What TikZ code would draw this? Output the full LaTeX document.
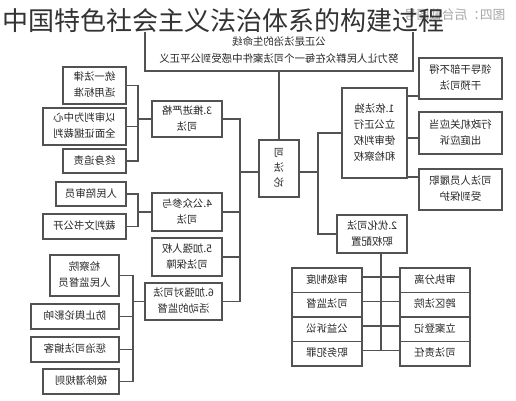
\documentclass[tikz,border=0pt]{standalone}
\usepackage{fontspec}
\usepackage{graphicx}
\setmainfont{Noto Sans CJK SC}
\usetikzlibrary{positioning,calc}
\newcommand{\fl}[1]{\reflectbox{\begin{tabular}{@{}c@{}}#1\end{tabular}}}
\tikzset{
  box/.style 2 args={draw=black!68, line width=0.9pt, fill=white, inner sep=0pt,
    minimum width=#1*0.75pt, minimum height=#2*0.75pt,
    font=\fontsize{7.8}{12}\selectfont, text=black!85},
  wire/.style={draw=black!68, line width=0.9pt},
}
\begin{document}
\begin{tikzpicture}[x=0.75pt, y=-0.75pt]
  \useasboundingbox (0,0) rectangle (516,400);
  % top and centre
  \node[box={268}{40}, font=\fontsize{7.8}{12.8}\selectfont] (top) at (279,51)
     {\fl{公正是法治的生命线\\努力让人民群众在每一个司法案件中感受到公平正义}};
  \node[box={40}{57}, font=\fontsize{7.8}{11.2}\selectfont] (cen) at (279,168.5) {\fl{司\\法\\论}};
  \draw[wire] (top) -- (cen);
  % right side
  \node[box={65}{90}] (b1) at (374.5,133) {\fl{1.依法独\\立公正行\\使审判权\\和检察权}};
  \node[box={83}{41}] (c1a) at (460.5,78.5) {\fl{领导干部不得\\干预司法}};
  \node[box={83}{42}] (c1b) at (460.5,133) {\fl{行政机关应当\\出庭应诉}};
  \node[box={83}{41}] (c1c) at (460.5,189.5) {\fl{司法人员履职\\受到保护}};
  \node[box={70}{38}] (b2) at (372,234) {\fl{2.优化司法\\职权配置}};
  \coordinate (rt) at (318,172);
  \draw[wire] (cen.east |- rt) -- (rt);
  \draw[wire] (b1.west) -| (rt) |- (b2.west);
  \draw[wire] (b1.east |- 0,96) -- (c1a.west |- 0,96);
  \draw[wire] (b1.east |- 0,138) -- (c1b.west |- 0,138);
  \draw[wire] (b1.east |- 0,177) -- (c1c.west |- 0,177);
  \coordinate (gv) at (381,350);
  \draw[wire] (gv |- b2.south) -- (gv);
  \foreach \i/\la/\lb in {1/审级制度/审执分离, 2/司法监督/跨区法院, 3/公益诉讼/立案登记, 4/职务犯罪/司法责任}{
    \node[box={70}{24.5}] (gl\i) at (327,255.75+24.5*\i) {\fl{\la}};
    \node[box={70}{24.5}] (gr\i) at (435,255.75+24.5*\i) {\fl{\lb}};
    \draw[wire] (gl\i.east |- 0,252.5+24.5*\i) -- (gr\i.west |- 0,252.5+24.5*\i);
  }
  % left side
  \node[box={70}{36}] (b3) at (187,119) {\fl{3.推进严格\\司法}};
  \node[box={70}{38}] (b4) at (187,212) {\fl{4.公众参与\\司法}};
  \node[box={70}{38}] (b5) at (187,257) {\fl{5.加强人权\\司法保障}};
  \node[box={77}{37}] (b6) at (183.5,301.5) {\fl{6.加强对司法\\活动的监督}};
  \coordinate (lt) at (240,172);
  \draw[wire] (cen.west |- lt) -- (lt);
  \draw[wire] (b3.east) -| (lt) |- (b6.east);
  \draw[wire] (b4.east) -- (b4.east -| lt);
  \draw[wire] (b5.east) -- (b5.east -| lt);
  \node[box={63}{37}] (c3a) at (94.5,85.5) {\fl{统一法律\\适用标准}};
  \node[box={83}{37}] (c3b) at (84.5,126.5) {\fl{以审判为中心\\全面证据裁判}};
  \node[box={63}{24}] (c3c) at (94.5,161) {\fl{终身追责}};
  \coordinate (k3) at (138,119);
  \draw[wire] (b3.west) -- (k3);
  \draw[wire] (c3a.east) -| (k3) |- (c3c.east);
  \draw[wire] (c3b.east) -- (c3b.east -| k3);
  \node[box={70}{24}] (c4a) at (91,194) {\fl{人民陪审员}};
  \node[box={83}{25}] (c4b) at (84.5,226.5) {\fl{裁判文书公开}};
  \coordinate (k4) at (138,212);
  \draw[wire] (b4.west) -- (k4);
  \draw[wire] (c4a.east) -| (k4) |- (c4b.east);
  \node[box={69}{41}] (c6a) at (84.5,275.5) {\fl{检察院\\人民监督员}};
  \node[box={88}{25}] (c6b) at (75,316.5) {\fl{防止舆论影响}};
  \node[box={88}{25}] (c6c) at (75,349.5) {\fl{惩治司法掮客}};
  \node[box={76}{25}] (c6d) at (81,381.5) {\fl{破除潜规则}};
  \coordinate (k6) at (133,301.5);
  \draw[wire] (b6.west) -- (k6);
  \draw[wire] (c6a.east) -| (k6) |- (c6d.east);
  \draw[wire] (c6b.east) -- (c6b.east -| k6);
  \draw[wire] (c6c.east) -- (c6c.east -| k6);
  % title
  \fill[white] (0,0) rectangle (516,31.5);
  \node[anchor=east, font=\fontsize{9.5}{10}\selectfont, text=black!35] (wm) at (510,15) {\reflectbox{图四：后台截图号}};
  \node[anchor=west, font=\fontsize{19.5}{20}\selectfont, text=black!80, inner sep=0pt] (title) at (2,21) {中国特色社会主义法治体系的构建过程};
\end{tikzpicture}
\end{document}
